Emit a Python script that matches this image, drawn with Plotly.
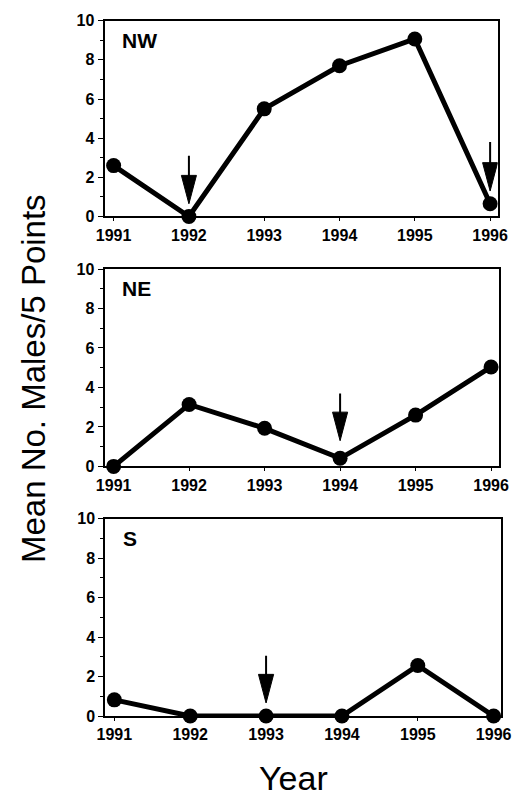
import plotly.graph_objects as go

# ---- data ----
years = [1991, 1992, 1993, 1994, 1995, 1996]
nw_values = [2.6, 0.0, 5.5, 7.7, 9.07, 0.65]
ne_values = [0.0, 3.14, 1.93, 0.41, 2.6, 5.04]
s_values = [0.82, 0.0, 0.0, 0.0, 2.56, 0.0]
panel_labels = ["NW", "NE", "S"]
y_ticks = [0, 2, 4, 6, 8, 10]
arrow_years = [[1992, 1996], [1994], [1993]]
arrow_tops = [[3.1, 3.8], [3.7], [3.05]]
arrow_tips = [[0.65, 1.3], [1.3], [0.66]]

series = [nw_values, ne_values, s_values]

FONT = "Liberation Sans, Arial, sans-serif"
W, H = 526, 804

# pixel layout of panels (top, bottom, left, right)
panels_px = [(13, 213, 100, 507), (266.7, 468.3, 100, 508), (521.7, 723.3, 100.7, 510.7)]

fig = go.Figure()
layout = dict(
    width=W, height=H,
    margin=dict(l=0, r=0, t=0, b=0),
    paper_bgcolor="white", plot_bgcolor="white",
    showlegend=False,
    font=dict(family=FONT, color="black"),
    shapes=[], annotations=[],
)

head_len = 1.45   # arrow head length (y units)
head_hw = 0.1     # arrow head half width (years)

for i, vals in enumerate(series):
    n = "" if i == 0 else str(i + 1)
    top, bot, left, right = panels_px[i]
    fig.add_trace(go.Scatter(
        x=years, y=vals, mode="lines+markers",
        line=dict(color="black", width=5),
        marker=dict(color="black", size=15),
        cliponaxis=False,
        xaxis="x" + n, yaxis="y" + n,
    ))
    layout["xaxis" + n] = dict(
        domain=[left / W, right / W], anchor="y" + n,
        range=[1990.88, 1996.10], tickmode="array", tickvals=years,
        ticktext=[str(y) for y in years],
        showgrid=False, zeroline=False,
        showline=True, linecolor="black", linewidth=2, mirror=True,
        ticks="outside", ticklen=3, tickwidth=1, tickcolor="black",
        tickfont=dict(family=FONT, size=16, color="black", weight="bold"),
        fixedrange=True,
    )
    layout["yaxis" + n] = dict(
        domain=[(H - bot) / H, (H - top) / H], anchor="x" + n,
        range=[0, 10], tickmode="array", tickvals=y_ticks,
        ticktext=[str(v) for v in y_ticks],
        showgrid=False, zeroline=False,
        showline=True, linecolor="black", linewidth=2, mirror=True,
        ticks="outside", ticklen=5, tickwidth=1, tickcolor="black",
        minor=dict(dtick=1, ticks="outside", ticklen=3, tickcolor="black", showgrid=False),
        tickfont=dict(family=FONT, size=16, color="black", weight="bold"),
        fixedrange=True,
    )
    layout["annotations"].append(dict(
        text="<b>" + panel_labels[i] + "</b>",
        xref="x" + n + " domain", yref="y" + n + " domain",
        x=0.04, y=0.9, xanchor="left", yanchor="middle",
        showarrow=False, font=dict(family=FONT, size=21, color="black"),
    ))
    for ay, at, ap in zip(arrow_years[i], arrow_tops[i], arrow_tips[i]):
        base = ap + head_len
        layout["shapes"].append(dict(
            type="line", xref="x" + n, yref="y" + n,
            x0=ay, x1=ay, y0=at, y1=base - 0.05,
            line=dict(color="black", width=2), layer="above",
        ))
        layout["shapes"].append(dict(
            type="path", xref="x" + n, yref="y" + n,
            path=f"M {ay - head_hw},{base} L {ay + head_hw},{base} L {ay},{ap} Z",
            fillcolor="black", line=dict(color="black", width=1), layer="above",
        ))

layout["annotations"].append(dict(
    text="Mean No. Males/5 Points", textangle=-90,
    xref="paper", yref="paper", x=27 / W, y=(H - 379) / H,
    xanchor="center", yanchor="middle", showarrow=False,
    font=dict(family=FONT, size=33, color="black"),
))
layout["annotations"].append(dict(
    text="Year",
    xref="paper", yref="paper", x=296 / W, y=(H - 787) / H,
    xanchor="center", yanchor="middle", showarrow=False,
    font=dict(family=FONT, size=34, color="black"),
))

fig.update_layout(**layout)
fig.write_html("out.html")
